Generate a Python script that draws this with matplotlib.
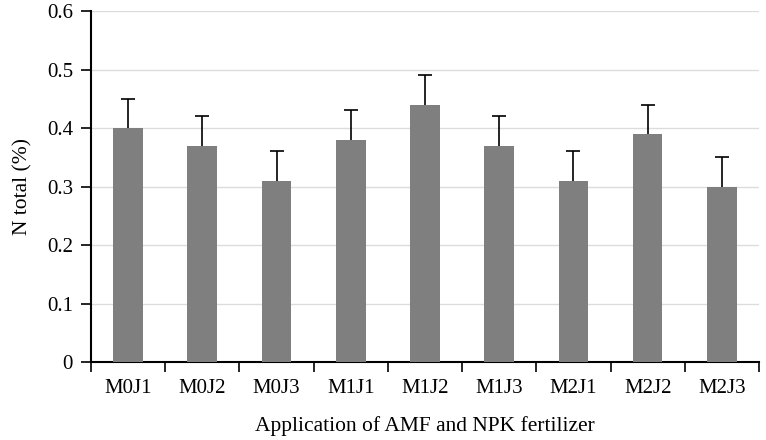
import matplotlib
matplotlib.use("Agg")
import matplotlib.pyplot as plt
import numpy as np

categories = ["M0J1", "M0J2", "M0J3", "M1J1", "M1J2", "M1J3", "M2J1", "M2J2", "M2J3"]
n_total = [0.40, 0.37, 0.31, 0.38, 0.44, 0.37, 0.31, 0.39, 0.30]
n_err = [0.05, 0.05, 0.05, 0.05, 0.05, 0.05, 0.05, 0.05, 0.05]

BAR_COLOR = "#7f7f7f"

plt.rcParams["font.family"] = ["Liberation Serif", "DejaVu Serif"]


def main():
    fig = plt.figure(figsize=(7.66, 4.40), dpi=100)
    ax = fig.add_axes([0.1188, 0.177, 0.872, 0.798])

    x = np.arange(len(categories))
    tops = np.array(n_total) + np.array(n_err)
    ax.bar(x, n_total, width=0.4, color=BAR_COLOR, zorder=3)
    # upper-only error bars: stem plus a single cap at the top
    ax.vlines(x, n_total, tops, color="black", linewidth=1.2, zorder=4)
    ax.plot(x, tops, linestyle="none", marker="_", markersize=10,
            markeredgewidth=1.2, color="black", zorder=4)

    ax.set_xlim(-0.5, len(categories) - 0.5)
    ax.set_ylim(0, 0.6)
    ax.set_yticks(np.arange(0, 0.61, 0.1))
    ax.set_yticklabels(["0", "0.1", "0.2", "0.3", "0.4", "0.5", "0.6"])

    # boundary ticks without labels, category names on invisible minor ticks
    ax.set_xticks(np.arange(-0.5, len(categories), 1.0))
    ax.set_xticklabels([])
    ax.set_xticks(x, minor=True)
    ax.set_xticklabels(categories, minor=True)
    ax.tick_params(axis="x", which="major", direction="out", length=7, width=1.2)
    ax.tick_params(axis="x", which="minor", length=0, pad=12, labelsize=15)
    ax.tick_params(axis="y", direction="out", length=7, width=1.2, labelsize=15, pad=6)

    ax.yaxis.grid(True, color="#dcdcdc", linewidth=1.0, zorder=0)
    ax.set_axisbelow(True)

    for side in ("top", "right"):
        ax.spines[side].set_visible(False)
    for side in ("left", "bottom"):
        ax.spines[side].set_linewidth(1.5)

    ax.set_ylabel("N total (%)", fontsize=15.5, labelpad=10)
    ax.set_xlabel("Application of AMF and NPK fertilizer", fontsize=15.5, labelpad=13)

    fig.savefig("out.png", dpi=100)


if __name__ == "__main__":
    main()
